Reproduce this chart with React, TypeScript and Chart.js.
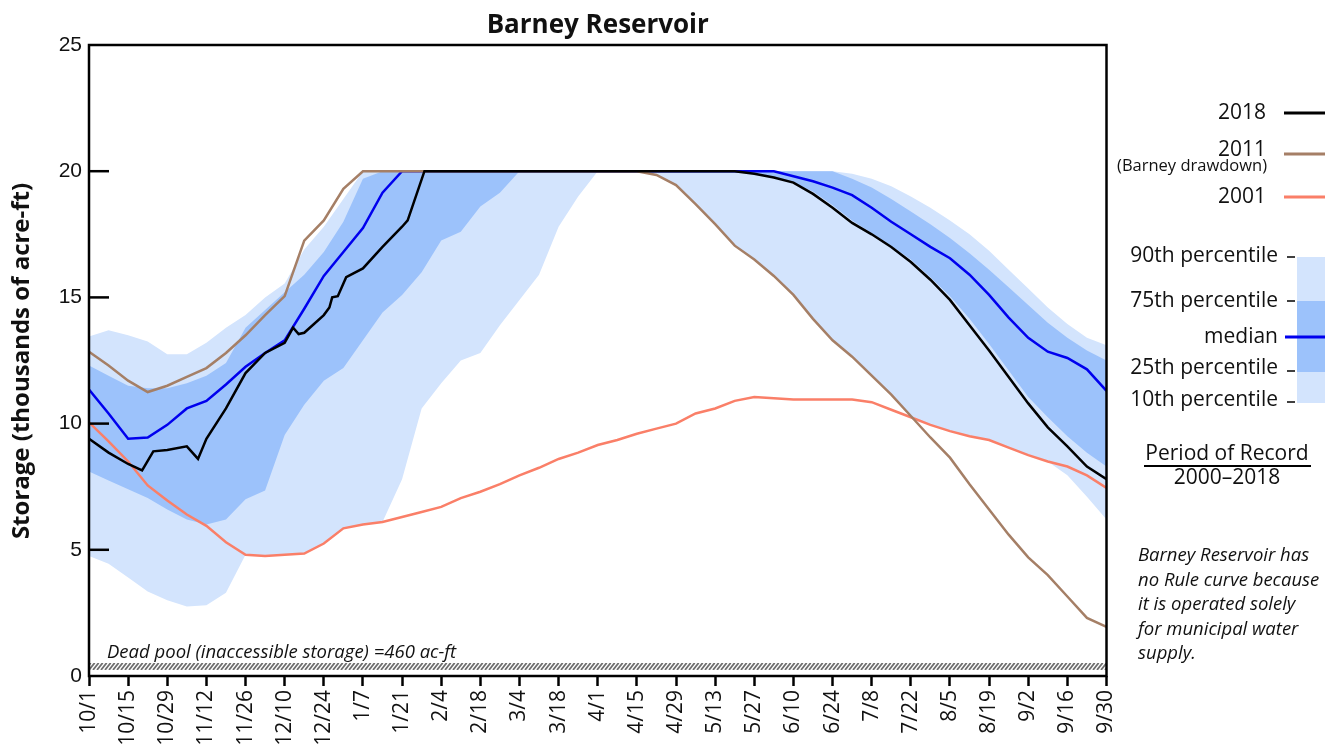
import React, { useEffect, useRef } from "react";
import { Chart, registerables } from "chart.js";
Chart.register(...registerables);

// ---- data (x = days since 10/1) ----
const tickLabels = ["10/1","10/15","10/29","11/12","11/26","12/10","12/24","1/7","1/21","2/4","2/18","3/4","3/18","4/1","4/15","4/29","5/13","5/27","6/10","6/24","7/8","7/22","8/5","8/19","9/2","9/16","9/30"];
const yTicks = [5, 10, 15, 20];

const days = [0,7,14,21,28,35,42,49,56,63,70,77,84,91,98,105,112,119,126,133,140,147,154,161,168,175,182,189,196,203,210,217,224,231,238,245,252,259,266,273,280,287,294,301,308,315,322,329,336,343,350,357,364];

const p90 = [13.45,13.7,13.5,13.25,12.75,12.75,13.2,13.8,14.3,15.0,15.55,16.9,17.8,18.9,20,
  20,20,20,20,20,20,20,20,20,20,20,20,20,20,20,20,20,20,20,20,20,20,20,20,
  19.9,19.7,19.4,19.0,18.55,18.05,17.5,16.85,16.1,15.35,14.6,13.95,13.4,13.1];
const p75 = [12.3,11.9,11.5,11.4,11.4,11.6,11.9,12.4,13.8,14.5,15.2,15.9,16.8,18.0,19.7,
  20,20,20,20,20,20,20,20,20,20,20,20,20,20,20,20,20,20,20,20,20,20,20,20,
  19.7,19.35,18.9,18.4,17.9,17.35,16.75,16.1,15.4,14.7,14.0,13.4,12.9,12.5];
const median = [11.35,10.4,9.4,9.45,9.95,10.6,10.9,11.55,12.25,12.8,13.3,14.55,15.85,16.8,17.75,19.15,
  20,20,20,20,20,20,20,20,20,20,20,20,20,20,20,20,20,20,20,20,
  19.8,19.6,19.35,19.05,18.55,18.0,17.5,17.0,16.55,15.9,15.1,14.2,13.4,12.85,12.6,12.15,11.3];
const p25 = [8.1,7.75,7.4,7.05,6.6,6.2,6.0,6.2,7.0,7.35,9.55,10.75,11.7,12.2,13.3,14.4,15.1,16.0,17.25,17.6,18.6,19.15,
  20,20,20,20,20,20,20,20,20,20,20,
  19.95,19.9,19.75,19.55,19.2,18.65,18.05,17.55,17.05,16.5,15.8,15.05,14.15,13.15,12.1,11.05,10.25,9.5,8.85,8.3];
const p10 = [4.75,4.45,3.9,3.35,3.0,2.75,2.8,3.3,4.8,4.75,4.8,4.85,5.25,5.85,6.0,6.1,7.8,10.6,11.6,12.5,12.8,13.9,14.9,15.9,17.8,19.0,
  20,20,20,19.85,19.45,18.7,17.9,17.05,16.5,15.85,15.1,14.15,13.3,12.65,11.9,11.15,10.3,9.95,9.7,9.5,9.35,9.05,8.75,8.5,7.95,7.1,6.2];

const y2011 = [12.85,12.3,11.7,11.25,11.5,11.85,12.2,12.8,13.5,14.3,15.05,17.25,18.05,19.3,
  20,20,20,20,20,20,20,20,20,20,20,20,20,20,20,
  19.85,19.45,18.7,17.9,17.05,16.5,15.85,15.1,14.15,13.3,12.65,11.9,11.15,10.3,9.45,8.65,7.6,6.6,5.6,4.7,4.0,3.15,2.3,1.95];
const y2001 = [10.05,9.3,8.5,7.55,6.95,6.4,5.95,5.3,4.8,4.75,4.8,4.85,5.25,5.85,6.0,6.1,6.3,6.5,6.7,7.05,7.3,7.6,7.95,8.25,8.6,8.85,9.15,9.35,9.6,9.8,10.0,10.4,10.6,10.9,11.05,11.0,10.95,10.95,10.95,10.95,10.85,10.55,10.25,9.95,9.7,9.5,9.35,9.05,8.75,8.5,8.3,7.95,7.45];

const days2018 = [0,7,14,19,23,28,35,39,42,49,56,63,70,73,75,77,84,86,87,89,92,98,105,112,114,120,231,238,245,252,259,266,273,280,287,294,301,308,315,322,329,336,343,350,357,364];
const y2018 = [9.4,8.85,8.4,8.15,8.9,8.95,9.1,8.6,9.4,10.6,12.0,12.8,13.2,13.8,13.55,13.6,14.3,14.6,15.0,15.05,15.8,16.15,17.0,17.8,18.05,20,20,19.9,19.75,19.55,19.1,18.55,17.95,17.5,17.0,16.4,15.7,14.9,13.9,12.9,11.85,10.8,9.85,9.1,8.3,7.8];

const deadPoolTop = 0.52;
const deadPoolBottom = 0.24;

// ---- styles ----
const LIGHT = "#d3e4fd";
const MEDIUM = "#9cc2fb";
const BLUE = "#0000ee";
const BROWN = "#a57f66";
const SALMON = "#fa7f68";
const FONT = '"Open Sans", "Noto Sans", sans-serif';

const decor = {
  id: "decor",
  afterDraw(chart: any) {
    const { ctx, chartArea: a, scales } = chart;
    const ys = scales.y;
    ctx.save();
    // dead pool hatch
    const hTop = ys.getPixelForValue(deadPoolTop);
    const hBot = ys.getPixelForValue(deadPoolBottom);
    ctx.save();
    ctx.beginPath();
    ctx.rect(a.left, hTop, a.right - a.left, hBot - hTop);
    ctx.clip();
    ctx.strokeStyle = "#6f6f6f";
    ctx.lineWidth = 1.8;
    for (let px = a.left - 12; px < a.right + 12; px += 4) {
      ctx.beginPath();
      ctx.moveTo(px, hBot);
      ctx.lineTo(px + (hBot - hTop) * 0.8, hTop);
      ctx.stroke();
    }
    ctx.restore();

    // frame
    ctx.strokeStyle = "#000";
    ctx.lineWidth = 2.5;
    ctx.strokeRect(a.left, a.top, a.right - a.left, a.bottom - a.top);
    // inward y ticks
    for (const v of yTicks) {
      const py = ys.getPixelForValue(v);
      ctx.beginPath();
      ctx.moveTo(a.left, py);
      ctx.lineTo(a.left + 20, py);
      ctx.stroke();
    }

    ctx.fillStyle = "#111";
    // title
    ctx.font = `bold 26px ${FONT}`;
    ctx.textAlign = "center";
    ctx.textBaseline = "alphabetic";
    ctx.fillText("Barney Reservoir", (a.left + a.right) / 2, 33);

    // y axis title
    ctx.save();
    ctx.translate(22, 361);
    ctx.rotate(-Math.PI / 2);
    ctx.font = `bold 24px ${FONT}`;
    ctx.textBaseline = "middle";
    ctx.fillText("Storage (thousands of acre-ft)", 0, 0);
    ctx.restore();

    // dead pool text
    ctx.font = `italic 18.5px ${FONT}`;
    ctx.textAlign = "left";
    ctx.textBaseline = "alphabetic";
    ctx.fillText("Dead pool (inaccessible storage) =460 ac-ft", 107, 658);

    // legend lines
    ctx.textAlign = "right";
    ctx.textBaseline = "middle";
    ctx.font = `21px ${FONT}`;
    const legLine = (y: number, color: string) => {
      ctx.strokeStyle = color;
      ctx.lineWidth = 3;
      ctx.beginPath();
      ctx.moveTo(1284, y);
      ctx.lineTo(1325, y);
      ctx.stroke();
    };
    ctx.fillText("2018", 1266, 113);
    legLine(113, "#000");
    ctx.fillText("2011", 1266, 150);
    legLine(154, BROWN);
    ctx.font = `16.5px ${FONT}`;
    ctx.fillText("(Barney drawdown)", 1267, 166);
    ctx.font = `21px ${FONT}`;
    ctx.fillText("2001", 1266, 197);
    legLine(197, SALMON);

    // percentile box
    ctx.fillStyle = LIGHT;
    ctx.fillRect(1297, 257, 28, 146);
    ctx.fillStyle = MEDIUM;
    ctx.fillRect(1297, 301, 28, 71);
    ctx.strokeStyle = BLUE;
    ctx.lineWidth = 3;
    ctx.beginPath();
    ctx.moveTo(1285, 337);
    ctx.lineTo(1325, 337);
    ctx.stroke();
    ctx.strokeStyle = "#000";
    ctx.lineWidth = 1.5;
    for (const ty of [257, 301, 371, 402]) {
      ctx.beginPath();
      ctx.moveTo(1287, ty);
      ctx.lineTo(1295, ty);
      ctx.stroke();
    }
    ctx.fillStyle = "#111";
    ctx.fillText("90th percentile", 1278, 256);
    ctx.fillText("75th percentile", 1278, 301);
    ctx.fillText("median", 1278, 337);
    ctx.fillText("25th percentile", 1278, 368);
    ctx.fillText("10th percentile", 1278, 400);

    // period of record
    ctx.textAlign = "center";
    ctx.font = `21px ${FONT}`;
    ctx.fillText("Period of Record", 1227, 454);
    ctx.fillText("2000\u20132018", 1227, 478);
    ctx.strokeStyle = "#000";
    ctx.lineWidth = 2;
    ctx.beginPath();
    ctx.moveTo(1144, 466);
    ctx.lineTo(1311, 466);
    ctx.stroke();

    // note
    ctx.textAlign = "left";
    ctx.font = `italic 18.5px ${FONT}`;
    const note = ["Barney Reservoir has", "no Rule curve because", "it is operated solely", "for municipal water", "supply."];
    note.forEach((t, i) => ctx.fillText(t, 1138, 556 + i * 24.5));

    ctx.restore();
  },
};

export default function App() {
  const ref = useRef<HTMLCanvasElement>(null);
  useEffect(() => {
    let chart: Chart | null = null;
    let cancelled = false;
    const pts = (xs: number[], vs: number[]) => xs.map((x, i) => ({ x, y: vs[i] }));
    const build = () => {
      if (cancelled || !ref.current) return;
      const line = (label: string, xs: number[], vs: number[], color: string, w = 2.5) => ({
        label,
        data: pts(xs, vs),
        borderColor: color,
        borderWidth: w,
        pointRadius: 0,
        fill: false,
        tension: 0,
      });
      const band = (label: string, vs: number[], fill: any, bg: string) => ({
        label,
        data: pts(days, vs),
        borderWidth: 0,
        borderColor: "rgba(0,0,0,0)",
        backgroundColor: bg,
        pointRadius: 0,
        fill,
        tension: 0,
      });
      chart = new Chart(ref.current, {
        type: "line",
        data: {
          datasets: [
            line("2018", days2018, y2018, "#000"),
            line("2011", days, y2011, BROWN),
            line("2001", days, y2001, SALMON),
            line("median", days, median, BLUE),
            band("p75", p75, "+1", MEDIUM),
            band("p25", p25, false, MEDIUM),
            band("p90", p90, "+1", LIGHT),
            band("p10", p10, false, LIGHT),
          ] as any,
        },
        options: {
          responsive: false,
          devicePixelRatio: 1,
          animation: false,
          events: [],
          layout: { padding: { left: 0, top: 45, right: 233.5, bottom: 0 } },
          plugins: { legend: { display: false }, tooltip: { enabled: false }, title: { display: false } },
          scales: {
            x: {
              type: "linear",
              min: 0,
              max: 364,
              afterFit: (s: any) => { s.height = 74; },
              afterBuildTicks: (s: any) => { s.ticks = tickLabels.map((_, i) => ({ value: i * 14 })); },
              ticks: {
                stepSize: 14,
                autoSkip: false,
                maxRotation: 90,
                minRotation: 90,
                padding: 4,
                color: "#111",
                font: { family: FONT, size: 21 },
                callback: (v: any) => tickLabels[Math.round(Number(v) / 14)] ?? "",
              },
              grid: { display: true, drawOnChartArea: false, drawTicks: true, tickLength: 10, tickWidth: 2.5, tickColor: "#000", color: "#000" },
              border: { display: false },
            },
            y: {
              min: 0,
              max: 25,
              afterFit: (s: any) => { s.width = 89; },
              ticks: {
                stepSize: 5,
                padding: 7,
                color: "#111",
                font: { family: '"Liberation Sans", Arial, sans-serif', size: 21 },
              },
              grid: { display: false, drawTicks: false },
              border: { display: false },
            },
          },
        },
        plugins: [decor],
      } as any);
    };
    const fonts = ['16px "Open Sans"', 'bold 16px "Open Sans"', 'italic 16px "Open Sans"', '16px "Liberation Sans"'];
    Promise.all(fonts.map((f) => (document as any).fonts.load(f))).then(build, build);
    return () => {
      cancelled = true;
      if (chart) chart.destroy();
    };
  }, []);
  return (
    <div style={{ position: "absolute", left: 0, top: 0, width: 1340, height: 750, background: "#fff" }}>
      <canvas ref={ref} width={1340} height={750} style={{ display: "block", width: 1340, height: 750 }} />
    </div>
  );
}
